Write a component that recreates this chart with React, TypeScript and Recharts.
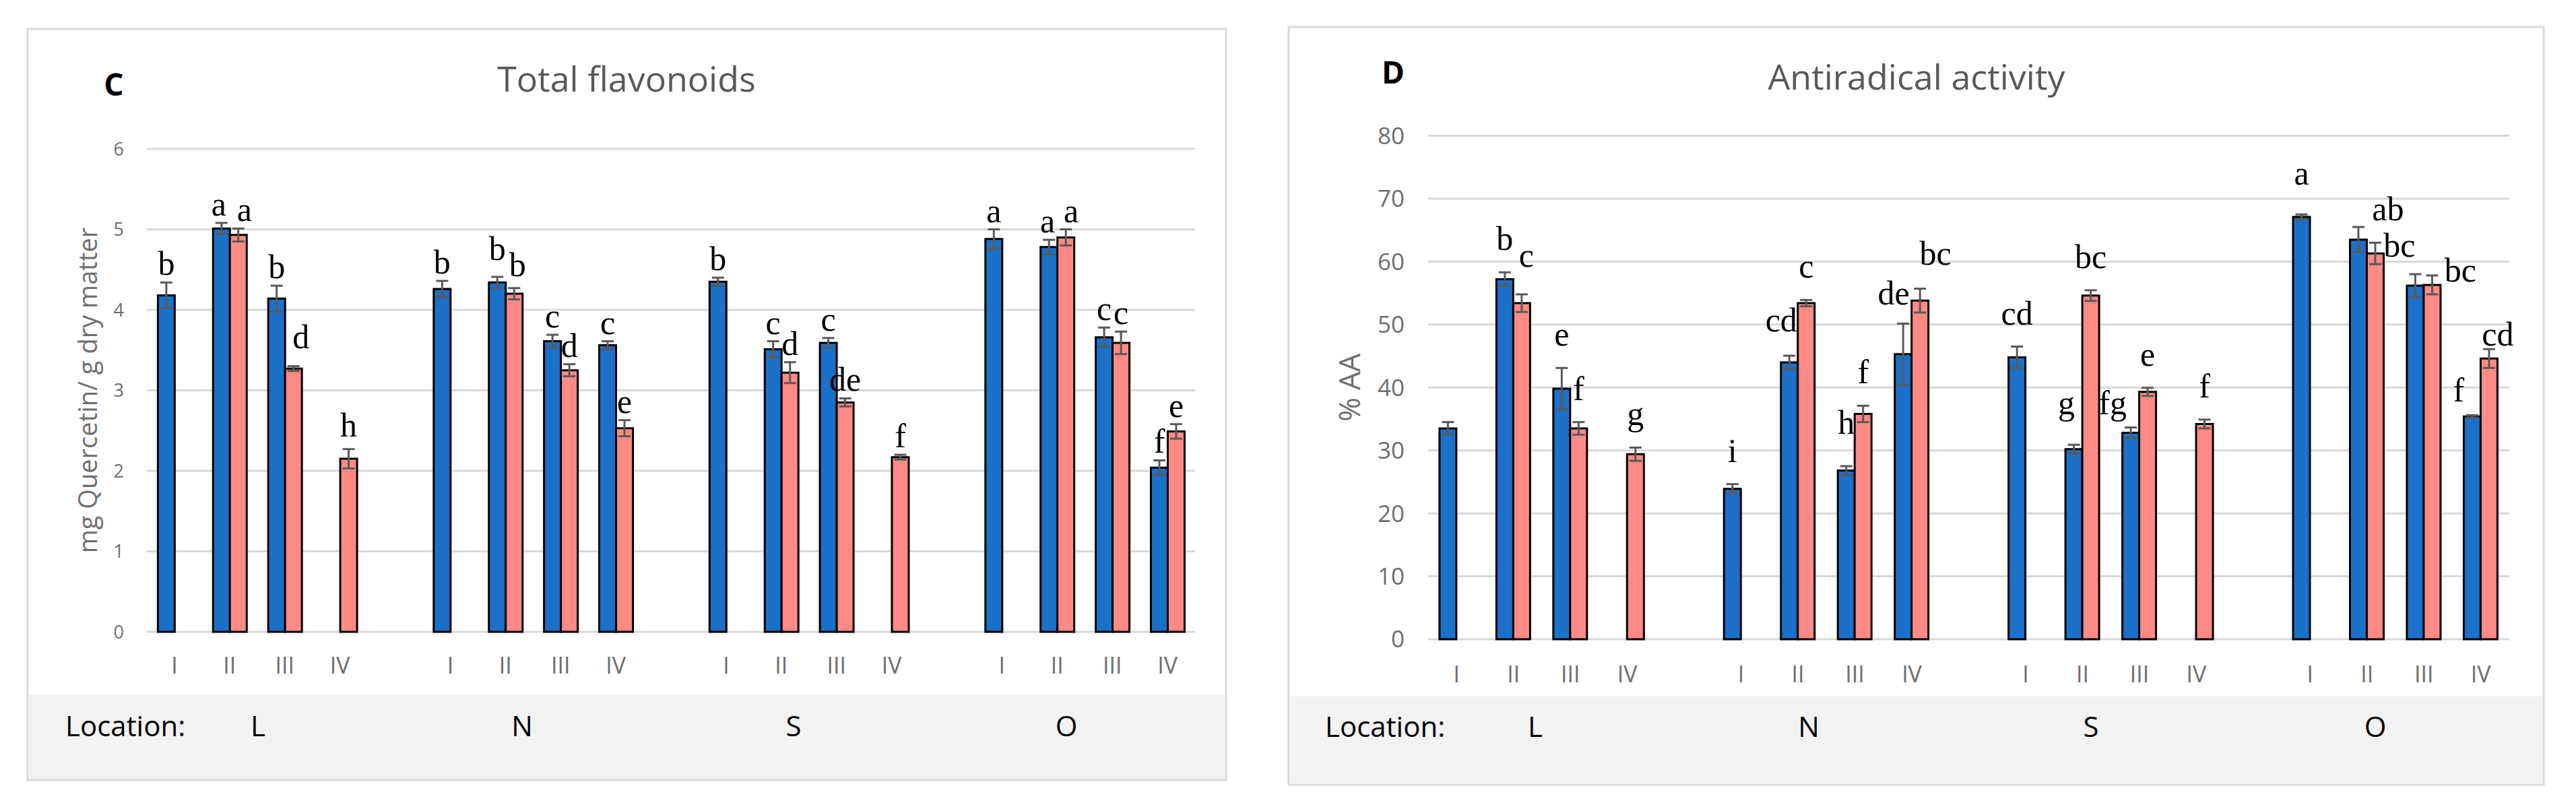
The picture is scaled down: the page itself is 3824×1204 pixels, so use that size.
import React from 'react'
import { BarChart, Bar, XAxis, YAxis, CartesianGrid, ErrorBar, LabelList } from 'recharts'

const locations = ['L', 'N', 'S', 'O']
const stages = ['I', 'II', 'III', 'IV']

// C – total flavonoids, mg quercetin / g dry matter (L I..IV, N I..IV, S I..IV, O I..IV)
const flavBlue = [4.18, 5.01, 4.14, null, 4.26, 4.34, 3.61, 3.56, 4.35, 3.51, 3.59, null, 4.88, 4.78, 3.66, 2.04]
const flavBlueErr = [0.16, 0.07, 0.16, null, 0.1, 0.07, 0.08, 0.05, 0.05, 0.1, 0.06, null, 0.12, 0.09, 0.12, 0.09]
const flavPink = [null, 4.93, 3.27, 2.15, null, 4.2, 3.25, 2.53, null, 3.22, 2.85, 2.17, null, 4.9, 3.59, 2.49]
const flavPinkErr = [null, 0.08, 0.03, 0.12, null, 0.07, 0.075, 0.1, null, 0.13, 0.05, 0.03, null, 0.1, 0.14, 0.09]
const flavBlueSig = ['b', 'a', 'b', '', 'b', 'b', 'c', 'c', 'b', 'c', 'c', '', 'a', 'a', 'c', 'f']
const flavPinkSig = ['', 'a', 'd', 'h', '', 'b', 'd', 'e', '', 'd', 'de', 'f', '', 'a', 'c', 'e']
const flavTicks = [0, 1, 2, 3, 4, 5, 6]

// D – antiradical activity, % AA
const aaBlue = [33.5, 57.2, 39.8, null, 23.9, 44.0, 26.8, 45.3, 44.8, 30.2, 32.8, null, 67.1, 63.5, 56.2, 35.4]
const aaBlueErr = [1.0, 1.1, 3.3, null, 0.75, 1.05, 0.7, 4.85, 1.7, 0.7, 0.85, null, 0.4, 2.0, 1.8, 0.2]
const aaPink = [null, 53.4, 33.5, 29.4, null, 53.4, 35.8, 53.8, null, 54.6, 39.3, 34.2, null, 61.3, 56.3, 44.6]
const aaPinkErr = [null, 1.4, 1.0, 1.05, null, 0.5, 1.3, 1.9, null, 0.85, 0.65, 0.7, null, 1.7, 1.5, 1.5]
const aaBlueSig = ['', 'b', 'e', '', 'i', 'cd', 'h', 'de', 'cd', 'g', 'fg', '', 'a', 'ab', '', 'f']
const aaPinkSig = ['', 'c', 'f', 'g', '', 'c', 'f', 'bc', '', 'bc', 'e', 'f', '', 'bc', 'bc', 'cd']
const aaTicks = [0, 10, 20, 30, 40, 50, 60, 70, 80]

// hand placement of some letters, as in the original figure: index -> [dx, dy]
type Nudge = Record<number, [number, number]>
const flavBlueNudge: Nudge = { 1: [-4, 0], 5: [0, -14], 13: [-2, 0] }
const flavPinkNudge: Nudge = { 1: [9, 0], 2: [11, -16], 3: [0, -8], 5: [5, -7], 13: [8, 0] }
const aaBlueNudge: Nudge = {
  5: [-12, -3], 6: [0, -15], 7: [-14, 5], 9: [-11, -12], 10: [-27, 13],
  12: [0, -11], 13: [44, 23], 15: [-20, 13],
}
const aaPinkNudge: Nudge = { 1: [7, -8], 7: [23, -3], 13: [36, 54], 14: [42, 42], 15: [13, 28] }

const BLUE = '#1b70c7'
const PINK = '#ff8a86'
const GRID = '#d9d9d9'
const GREY_TXT = '#6e6e6e'
const SANS = "'Open Sans', 'DejaVu Sans', sans-serif"
const SERIF = "'Liberation Serif', 'Times New Roman', serif"

type Num = number | null

function buildRows(blue: Num[], blueErr: Num[], pink: Num[], pinkErr: Num[], blueSig: string[], pinkSig: string[]) {
  const rows: any[] = []
  locations.forEach((loc, g) => {
    // empty slot between location groups
    if (g > 0) rows.push({ stage: '', k: -1, blue: null, blueErr: null, pink: null, pinkErr: null, blueSig: '', pinkSig: '' })
    stages.forEach((st, s) => {
      const i = g * stages.length + s
      rows.push({
        stage: st, loc, k: i,
        blue: blue[i], blueErr: blueErr[i],
        pink: pink[i], pinkErr: pinkErr[i],
        blueSig: blueSig[i], pinkSig: pinkSig[i],
      })
    })
  })
  return rows
}

const flavRows = buildRows(flavBlue, flavBlueErr, flavPink, flavPinkErr, flavBlueSig, flavPinkSig)
const aaRows = buildRows(aaBlue, aaBlueErr, aaPink, aaPinkErr, aaBlueSig, aaPinkSig)

// label value carries "index|letter" so the content knows which row it belongs to
const sigKey = (sigKeyName: string) => (d: any) => (d[sigKeyName] ? `${d.k}|${d[sigKeyName]}` : '')

// letter placed above the error bar of its bar
const sigLabel = (rows: any[], valKey: string, errKey: string, lift: number, nudge: Nudge) => (props: any) => {
  const raw = props.value
  if (!raw || typeof raw !== 'string') return null
  const [kStr, text] = raw.split('|')
  const k = Number(kStr)
  const row = rows.find((r) => r.k === k)
  const vb = props.viewBox || {}
  const x = Number(props.x ?? vb.x)
  const y = Number(props.y ?? vb.y)
  const width = Number(props.width ?? vb.width)
  const height = Math.abs(Number(props.height ?? vb.height))
  const v = row?.[valKey]
  const e = row?.[errKey] ?? 0
  const errPx = v ? (e * height) / v : 0
  const [dx, dy] = nudge[k] ?? [0, 0]
  return (
    <text x={x + width / 2 + dx} y={y - errPx - lift + dy} textAnchor="middle"
      fontFamily={SERIF} fontSize={50} fill="#000">
      {text}
    </text>
  )
}

interface PanelProps {
  rows: any[]
  ticks: number[]
  width: number
  height: number
  margin: { top: number; right: number; bottom: number; left: number }
  yWidth: number
  yLabel: string
  yLabelSize: number
  yTickSize: number
  yTickGap: number
  xTickGap: number
  lift: number
  blueNudge: Nudge
  pinkNudge: Nudge
}

function Panel(p: PanelProps) {
  return (
    <BarChart width={p.width} height={p.height} data={p.rows} margin={p.margin}
      barCategoryGap="20%" barGap={0}>
      <CartesianGrid vertical={false} stroke={GRID} strokeWidth={3} />
      <XAxis dataKey="stage" interval={0} tickLine={false} axisLine={false} height={60}
        tickSize={0} tickMargin={p.xTickGap}
        tick={{ fill: GREY_TXT, fontSize: 34, fontFamily: SANS }} />
      <YAxis domain={[p.ticks[0], p.ticks[p.ticks.length - 1]]} ticks={p.ticks} width={p.yWidth}
        tickLine={false} axisLine={false} tickSize={0} tickMargin={p.yTickGap}
        tick={{ fill: GREY_TXT, fontSize: p.yTickSize, fontFamily: SANS }}
        label={{ value: p.yLabel, angle: -90, position: 'center', fill: GREY_TXT,
          fontSize: p.yLabelSize, fontFamily: SANS }} />
      <Bar dataKey="blue" fill={BLUE} stroke="#000" strokeWidth={3} isAnimationActive={false}>
        <ErrorBar dataKey="blueErr" width={9} stroke="#595959" strokeWidth={3} />
        <LabelList dataKey={sigKey('blueSig')} content={sigLabel(p.rows, 'blue', 'blueErr', p.lift, p.blueNudge)} />
      </Bar>
      <Bar dataKey="pink" fill={PINK} stroke="#000" strokeWidth={3} isAnimationActive={false}>
        <ErrorBar dataKey="pinkErr" width={9} stroke="#595959" strokeWidth={3} />
        <LabelList dataKey={sigKey('pinkSig')} content={sigLabel(p.rows, 'pink', 'pinkErr', p.lift, p.pinkNudge)} />
      </Bar>
    </BarChart>
  )
}

export default function App() {
  return (
    <div style={{ position: 'absolute', left: 0, top: 0, width: 3824, height: 1204, background: '#fff', overflow: 'hidden' }}>
      <svg width={3824} height={1204} style={{ position: 'absolute', left: 0, top: 0 }}>
        {/* panel C frame */}
        <rect x={41} y={43} width={1779} height={1115} fill="#fff" stroke={GRID} strokeWidth={3} />
        <rect x={42.5} y={1031} width={1776} height={125.5} fill="#f2f2f2" />
        <text x={169} y={142} textAnchor="middle" fontFamily={SANS} fontWeight={700} fontSize={46} fill="#000">C</text>
        <text x={930} y={136} textAnchor="middle" fontFamily={SANS} fontSize={52} fill="#595959">Total flavonoids</text>
        <text x={97} y={1093} fontFamily={SANS} fontSize={42} fill="#000">Location:</text>
        <text x={383} y={1093} textAnchor="middle" fontFamily={SANS} fontSize={42} fill="#000">L</text>
        <text x={775} y={1093} textAnchor="middle" fontFamily={SANS} fontSize={42} fill="#000">N</text>
        <text x={1178} y={1093} textAnchor="middle" fontFamily={SANS} fontSize={42} fill="#000">S</text>
        <text x={1583} y={1093} textAnchor="middle" fontFamily={SANS} fontSize={42} fill="#000">O</text>

        {/* panel D frame */}
        <rect x={1913} y={40} width={1863} height={1125} fill="#fff" stroke={GRID} strokeWidth={3} />
        <rect x={1914.5} y={1034} width={1860} height={129.5} fill="#f2f2f2" />
        <text x={2068} y={124} textAnchor="middle" fontFamily={SANS} fontWeight={700} fontSize={46} fill="#000">D</text>
        <text x={2845} y={133} textAnchor="middle" fontFamily={SANS} fontSize={52} fill="#595959">Antiradical activity</text>
        <text x={1967} y={1094} fontFamily={SANS} fontSize={42} fill="#000">Location:</text>
        <text x={2279} y={1094} textAnchor="middle" fontFamily={SANS} fontSize={42} fill="#000">L</text>
        <text x={2685} y={1094} textAnchor="middle" fontFamily={SANS} fontSize={42} fill="#000">N</text>
        <text x={3104} y={1094} textAnchor="middle" fontFamily={SANS} fontSize={42} fill="#000">S</text>
        <text x={3526} y={1094} textAnchor="middle" fontFamily={SANS} fontSize={42} fill="#000">O</text>
      </svg>

      <div style={{ position: 'absolute', left: 0, top: 0 }}>
        <Panel rows={flavRows} ticks={flavTicks} width={1800} height={1030}
          margin={{ top: 221, right: 26, bottom: 32, left: 44 }} yWidth={174}
          yLabel="mg Quercetin/ g dry matter" yLabelSize={38} yTickSize={27} yTickGap={34}
          xTickGap={38} lift={11} blueNudge={flavBlueNudge} pinkNudge={flavPinkNudge} />
      </div>
      <div style={{ position: 'absolute', left: 1880, top: 0 }}>
        <Panel rows={aaRows} ticks={aaTicks} width={1900} height={1030}
          margin={{ top: 201.5, right: 55, bottom: 21, left: 8 }} yWidth={232}
          yLabel="% AA" yLabelSize={43} yTickSize={35} yTickGap={35}
          xTickGap={40} lift={33} blueNudge={aaBlueNudge} pinkNudge={aaPinkNudge} />
      </div>
    </div>
  )
}
